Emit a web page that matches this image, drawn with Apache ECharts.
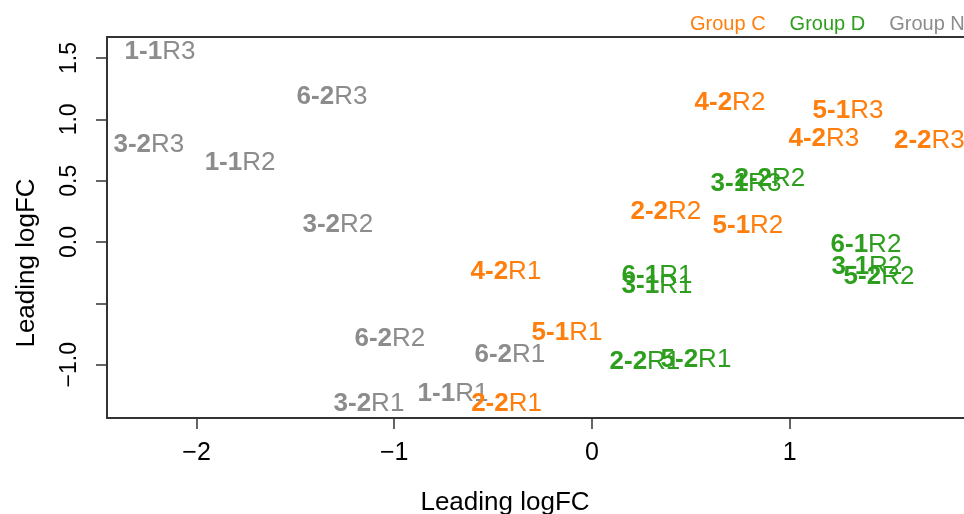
<!DOCTYPE html>
<html>
<head>
<meta charset="utf-8">
<script src="https://cdn.jsdelivr.net/npm/echarts@6/dist/echarts.min.js"></script>
<style>
  html, body { margin: 0; padding: 0; background: #fff; }
  #chart { width: 964px; height: 514px; }
</style>
</head>
<body>
<div id="chart"></div>
<script>
// sample labels and leading logFC coordinates, one set per group
const groupCLabels = ['4-2R2', '5-1R3', '4-2R3', '2-2R3', '2-2R2', '5-1R2', '4-2R1', '5-1R1', '2-2R1']
const groupCX = [0.698, 1.295, 1.173, 1.707, 0.374, 0.789, -0.435, -0.126, -0.432]
const groupCY = [1.136, 1.070, 0.842, 0.825, 0.245, 0.131, -0.245, -0.743, -1.316]

const groupDLabels = ['2-2R2', '3-1R3', '6-1R2', '3-1R2', '5-2R2', '6-1R1', '3-1R1', '2-2R1', '5-2R1']
const groupDX = [0.900, 0.779, 1.386, 1.391, 1.452, 0.329, 0.329, 0.268, 0.526]
const groupDY = [0.515, 0.474, -0.025, -0.205, -0.285, -0.278, -0.360, -0.980, -0.956]

const groupNLabels = ['1-1R3', '6-2R3', '3-2R3', '1-1R2', '3-2R2', '6-2R2', '6-2R1', '3-2R1', '1-1R1']
const groupNX = [-2.185, -1.315, -2.241, -1.780, -1.285, -1.022, -0.415, -1.128, -0.703]
const groupNY = [1.552, 1.185, 0.792, 0.645, 0.139, -0.792, -0.923, -1.315, -1.234]

const groupNames = ['Group C', 'Group D', 'Group N']
const groupColors = ['#FF7F0E', '#2E9E1E', '#8C8C8C']

const xTicks = [-2, -1, 0, 1]
const yTicks = [-1, -0.5, 0, 0.5, 1, 1.5]
const yTickLabels = [-1, 0, 0.5, 1, 1.5]

const FONT = "'Liberation Sans', Arial, sans-serif"

const minus = (s) => String(s).replace('-', '\u2212')

const makeSeries = (name, color, labels, xs, ys) => ({
  name,
  type: 'scatter',
  symbolSize: 0,
  silent: true,
  itemStyle: { color, opacity: 1 },
  data: labels.map((l, i) => [xs[i], ys[i], l]),
  label: {
    show: true,
    position: 'inside',
    align: 'center',
    verticalAlign: 'middle',
    formatter: (p) => {
      const l = p.data[2]
      return `{b|${l.slice(0, 3)}}{n|${l.slice(3)}}`
    },
    rich: {
      b: { fontFamily: FONT, fontSize: 26, fontWeight: 'bold', color },
      n: { fontFamily: FONT, fontSize: 26, color },
    },
  },
})

const chart = echarts.init(document.getElementById('chart'), null, { renderer: 'canvas' })

const xMin = -2.453
const xMax = 1.882
const yMin = -1.434
const yMax = 1.671

const option = {
  animation: false,
  backgroundColor: '#fff',
  grid: { left: 107, top: 37, right: 0, bottom: 96 },
  legend: {
    left: 680,
    top: 9,
    width: 400,
    icon: 'rect',
    itemWidth: 0,
    itemHeight: 0,
    itemGap: 19,
    selectedMode: false,
    textStyle: { fontFamily: FONT, fontSize: 20 },
    data: groupNames.map((n, i) => ({
      name: n,
      textStyle: { color: groupColors[i], fontFamily: FONT, fontSize: 20 },
    })),
  },
  xAxis: [
    {
      type: 'value',
      min: xMin,
      max: xMax,
      position: 'bottom',
      splitLine: { show: false },
      axisLine: { show: true, onZero: false, lineStyle: { color: '#333', width: 2 } },
      axisTick: {
        show: true,
        length: 11,
        customValues: xTicks,
        lineStyle: { color: '#333', width: 1.5 },
      },
      axisLabel: {
        customValues: xTicks,
        margin: 23,
        color: '#000',
        fontFamily: FONT,
        fontSize: 25,
        formatter: (v) => minus(v),
      },
    },
    {
      type: 'value',
      min: xMin,
      max: xMax,
      position: 'top',
      splitLine: { show: false },
      axisLine: { show: true, onZero: false, lineStyle: { color: '#333', width: 2 } },
      axisTick: { show: false },
      axisLabel: { show: false },
    },
  ],
  yAxis: {
    type: 'value',
    min: yMin,
    max: yMax,
    splitLine: { show: false },
    axisLine: { show: true, onZero: false, lineStyle: { color: '#333', width: 2 } },
    axisTick: {
      show: true,
      length: 11,
      customValues: yTicks,
      lineStyle: { color: '#333', width: 1.5 },
    },
    axisLabel: {
      customValues: yTickLabels,
      rotate: 90,
      margin: 26,
      color: '#000',
      fontFamily: FONT,
      fontSize: 23,
      formatter: (v) => minus(v.toFixed(1)),
    },
  },
  graphic: [
    {
      type: 'text',
      style: {
        x: 505,
        y: 503,
        text: 'Leading logFC',
        fontFamily: FONT,
        fontSize: 26,
        fill: '#000',
        align: 'center',
        verticalAlign: 'middle',
      },
    },
    {
      type: 'text',
      x: 27,
      y: 263,
      rotation: Math.PI / 2,
      style: {
        x: 0,
        y: 0,
        text: 'Leading logFC',
        fontFamily: FONT,
        fontSize: 26,
        fill: '#000',
        align: 'center',
        verticalAlign: 'middle',
      },
    },
  ],
  series: [
    makeSeries('Group N', groupColors[2], groupNLabels, groupNX, groupNY),
    makeSeries('Group D', groupColors[1], groupDLabels, groupDX, groupDY),
    makeSeries('Group C', groupColors[0], groupCLabels, groupCX, groupCY),
  ],
}

chart.setOption(option)
</script>
</body>
</html>
